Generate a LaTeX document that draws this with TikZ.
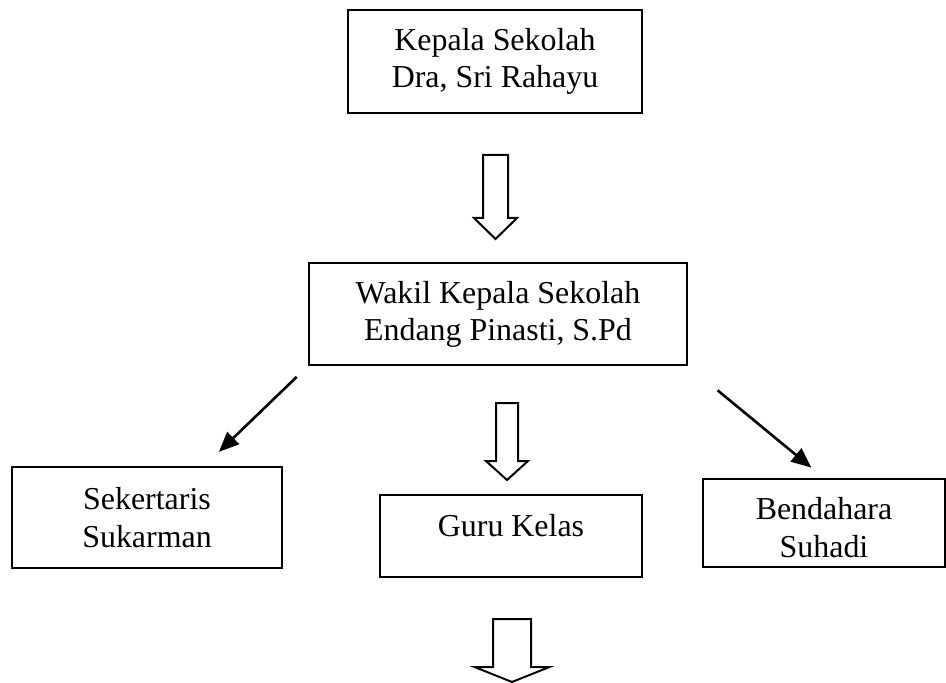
\documentclass[tikz,border=0pt]{standalone}
\usepackage{fontspec}
\setmainfont{Liberation Serif}
\usetikzlibrary{arrows.meta}
\tikzset{
  box/.style ={draw, line width=0.05cm, align=center, inner sep=0pt, font=\fontsize{22.7}{26.5}\selectfont},
  ln/.style  ={draw, line width=0.065cm, -{Triangle[length=0.5cm,width=0.42cm]}},
  hol/.style ={draw, line width=0.05cm, fill=white},
}

\begin{document}
\begin{tikzpicture}
    \useasboundingbox (0,0) rectangle (23.65,17.05);

    \node[box,minimum width=7.35cm,minimum height=2.575cm] (kep) at (12.375,15.5125)
      {Kepala Sekolah\\ Dra, Sri Rahayu};
    \node[box,minimum width=9.45cm,minimum height=2.55cm] (wak) at (12.45,9.2)
      {Wakil Kepala Sekolah\\ Endang Pinasti, S.Pd};
    \node[box,minimum width=6.75cm,minimum height=2.525cm] (sek) at (3.675,4.1125)
      {Sekertaris\\ Sukarman};
    \node[box,minimum width=6.55cm,minimum height=2.05cm,text height=0.6cm,text depth=0.6cm] (guru) at (12.775,3.65)
      {Guru Kelas};
    \node[box,minimum width=6.05cm,minimum height=2.2cm,text height=1.72cm] (ben) at (20.6,3.975)
      {Bendahara\\ Suhadi};

    % hollow block arrows
    \coordinate (h1) at (12.3875,13.175);
    \coordinate (h2) at (12.675,6.975);
    \coordinate (h3) at (12.8,1.575);
    \draw[hol] (h1) ++(-0.3125,0) -- ++(0,-1.575) -- ++(-0.225,0) -- ++(0.5375,-0.525)
      -- ++(0.5375,0.525) -- ++(-0.225,0) -- ++(0,1.575) -- cycle;
    \draw[hol] (h2) ++(-0.275,0) -- ++(0,-1.45) -- ++(-0.25,0) -- ++(0.525,-0.475)
      -- ++(0.525,0.475) -- ++(-0.25,0) -- ++(0,1.45) -- cycle;
    \draw[hol] (h3) ++(-0.475,0) -- ++(0,-1.2) -- ++(-0.4625,0) -- ++(0.9375,-0.375)
      -- ++(0.9375,0.375) -- ++(-0.4625,0) -- ++(0,1.2) -- cycle;

    \draw[ln,shorten <=0.39cm,shorten >=0.51cm] (wak.south west) -- (sek.42);
    \draw[ln,shorten <=0.96cm,shorten >=0.41cm] (wak.south east) -- (ben.north);
  \end{tikzpicture}
\end{document}
